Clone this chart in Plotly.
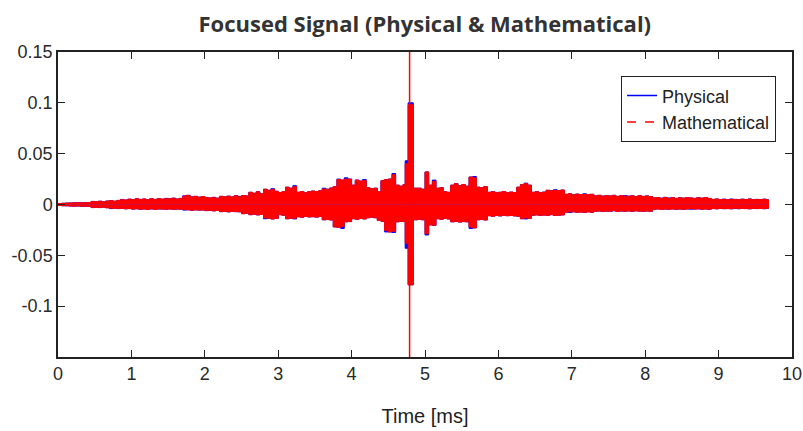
import plotly.graph_objects as go

# Time grid (ms) of the envelope samples
time_ms = [0.00, 0.05, 0.10, 0.15, 0.20, 0.25, 0.30, 0.35, 0.40, 0.45,
           0.50, 0.55, 0.60, 0.65, 0.70, 0.75, 0.80, 0.85, 0.90, 0.95,
           1.00, 1.05, 1.10, 1.15, 1.20, 1.25, 1.30, 1.35, 1.40, 1.45,
           1.50, 1.55, 1.60, 1.65, 1.70, 1.75, 1.80, 1.85, 1.90, 1.95,
           2.00, 2.05, 2.10, 2.15, 2.20, 2.25, 2.30, 2.35, 2.40, 2.45,
           2.50, 2.55, 2.60, 2.65, 2.70, 2.75, 2.80, 2.85, 2.90, 2.95,
           3.00, 3.05, 3.10, 3.15, 3.20, 3.25, 3.30, 3.35, 3.40, 3.45,
           3.50, 3.55, 3.60, 3.65, 3.70, 3.75, 3.80, 3.85, 3.90, 3.95,
           4.00, 4.05, 4.10, 4.15, 4.20, 4.25, 4.30, 4.35, 4.40, 4.45,
           4.50, 4.55, 4.60, 4.65, 4.70, 4.73, 4.77, 4.84, 4.90, 4.95,
           5.00, 5.05, 5.10, 5.15, 5.20, 5.25, 5.30, 5.35, 5.40, 5.45,
           5.50, 5.55, 5.60, 5.65, 5.70, 5.75, 5.80, 5.85, 5.90, 5.95,
           6.00, 6.05, 6.10, 6.15, 6.20, 6.25, 6.30, 6.35, 6.40, 6.45,
           6.50, 6.55, 6.60, 6.65, 6.70, 6.75, 6.80, 6.85, 6.90, 6.95,
           7.00, 7.05, 7.10, 7.15, 7.20, 7.25, 7.30, 7.35, 7.40, 7.45,
           7.50, 7.55, 7.60, 7.65, 7.70, 7.75, 7.80, 7.85, 7.90, 7.95,
           8.00, 8.05, 8.10, 8.15, 8.20, 8.25, 8.30, 8.35, 8.40, 8.45,
           8.50, 8.55, 8.60, 8.65, 8.70, 8.75, 8.80, 8.85, 8.90, 8.95,
           9.00, 9.05, 9.10, 9.15, 9.20, 9.25, 9.30, 9.35, 9.40, 9.45,
           9.50, 9.55, 9.60, 9.65, 9.68]

# Physical signal: positive / negative peak envelope
phys_upper = [.0010, .0012, .0014, .0015, .0016, .0018, .0016, .0020, .0018, .0030,
              .0028, .0032, .0026, .0034, .0038, .0032, .0040, .0050, .0044, .0052,
              .0048, .0056, .0050, .0054, .0046, .0056, .0050, .0058, .0052, .0060,
              .0056, .0062, .0054, .0060, .0085, .0090, .0075, .0080, .0072, .0078,
              .0068, .0064, .0070, .0062, .0080, .0076, .0082, .0074, .0086, .0080,
              .0088, .0084, .0120, .0110, .0125, .0105, .0150, .0140, .0155, .0130,
              .0118, .0125, .0170, .0160, .0185, .0120, .0128, .0115, .0125, .0132,
              .0128, .0135, .0160, .0150, .0162, .0175, .0250, .0240, .0262, .0250,
              .0190, .0240, .0230, .0245, .0165, .0155, .0160, .0125, .0235, .0245,
              .0250, .0305, .0190, .0180, .0195, .0430, .1000, .0160, .0160, .0150,
              .0320, .0190, .0240, .0160, .0165, .0125, .0120, .0190, .0205, .0185,
              .0195, .0180, .0270, .0275, .0170, .0165, .0175, .0120, .0125, .0115,
              .0120, .0128, .0115, .0122, .0118, .0170, .0195, .0210, .0190, .0120,
              .0125, .0115, .0122, .0140, .0135, .0145, .0138, .0142, .0100, .0105,
              .0095, .0102, .0098, .0105, .0095, .0100, .0085, .0090, .0082, .0088,
              .0084, .0090, .0080, .0086, .0088, .0082, .0085, .0078, .0086, .0080,
              .0084, .0078, .0065, .0068, .0062, .0070, .0064, .0068, .0060, .0066,
              .0062, .0068, .0064, .0060, .0066, .0062, .0068, .0060, .0050, .0054,
              .0048, .0052, .0046, .0054, .0050, .0046, .0052, .0048, .0054, .0046,
              .0050, .0048, .0052, .0046, 0.0]
phys_lower = [-.0010, -.0012, -.0013, -.0015, -.0016, -.0015, -.0017, -.0016, -.0018, -.0030,
              -.0028, -.0030, -.0026, -.0032, -.0040, -.0036, -.0040, -.0038, -.0042, -.0040,
              -.0045, -.0042, -.0046, -.0044, -.0048, -.0043, -.0046, -.0044, -.0045, -.0046,
              -.0044, -.0047, -.0045, -.0046, -.0055, -.0052, -.0056, -.0053, -.0055, -.0054,
              -.0060, -.0058, -.0062, -.0059, -.0070, -.0066, -.0072, -.0068, -.0070, -.0072,
              -.0090, -.0085, -.0100, -.0095, -.0102, -.0098, -.0140, -.0135, -.0142, -.0138,
              -.0100, -.0105, -.0140, -.0135, -.0142, -.0120, -.0125, -.0118, -.0122, -.0120,
              -.0124, -.0118, -.0150, -.0148, -.0152, -.0220, -.0225, -.0235, -.0170, -.0168,
              -.0140, -.0145, -.0138, -.0142, -.0130, -.0125, -.0130, -.0155, -.0165, -.0270,
              -.0270, -.0275, -.0170, -.0165, -.0168, -.0430, -.0790, -.0150, -.0145, -.0150,
              -.0300, -.0200, -.0205, -.0140, -.0145, -.0138, -.0142, -.0170, -.0165, -.0172,
              -.0168, -.0170, -.0235, -.0230, -.0150, -.0148, -.0152, -.0110, -.0115, -.0108,
              -.0112, -.0105, -.0110, -.0108, -.0112, -.0115, -.0140, -.0142, -.0135, -.0105,
              -.0102, -.0108, -.0104, -.0106, -.0100, -.0108, -.0105, -.0102, -.0075, -.0078,
              -.0072, -.0076, -.0074, -.0078, -.0072, -.0076, -.0066, -.0064, -.0068, -.0065,
              -.0066, -.0062, -.0068, -.0064, -.0066, -.0063, -.0067, -.0062, -.0065, -.0066,
              -.0064, -.0066, -.0046, -.0044, -.0048, -.0045, -.0047, -.0044, -.0046, -.0045,
              -.0047, -.0044, -.0046, -.0045, -.0043, -.0046, -.0044, -.0047, -.0040, -.0042,
              -.0039, -.0041, -.0040, -.0042, -.0038, -.0041, -.0039, -.0040, -.0042, -.0038,
              -.0040, -.0039, -.0041, -.0038, 0.0]

# Mathematical signal: positive / negative peak envelope
math_upper = [.0010, .0012, .0014, .0015, .0016, .0018, .0016, .0018, .0018, .0030,
              .0028, .0032, .0026, .0034, .0038, .0032, .0040, .0048, .0044, .0052,
              .0048, .0056, .0050, .0054, .0046, .0056, .0050, .0058, .0052, .0056,
              .0056, .0062, .0054, .0060, .0082, .0090, .0075, .0080, .0072, .0078,
              .0068, .0064, .0070, .0062, .0080, .0076, .0082, .0074, .0086, .0076,
              .0088, .0084, .0120, .0110, .0125, .0105, .0150, .0140, .0148, .0130,
              .0118, .0125, .0170, .0160, .0175, .0120, .0128, .0115, .0125, .0132,
              .0128, .0135, .0152, .0150, .0162, .0175, .0245, .0240, .0250, .0250,
              .0190, .0240, .0230, .0235, .0165, .0155, .0160, .0125, .0235, .0245,
              .0250, .0292, .0190, .0180, .0195, .0400, .0980, .0160, .0160, .0150,
              .0320, .0190, .0228, .0160, .0165, .0125, .0120, .0190, .0205, .0185,
              .0195, .0180, .0270, .0262, .0170, .0165, .0175, .0120, .0125, .0115,
              .0120, .0128, .0115, .0122, .0118, .0170, .0195, .0205, .0190, .0120,
              .0125, .0115, .0122, .0140, .0135, .0138, .0138, .0142, .0100, .0105,
              .0095, .0102, .0098, .0098, .0095, .0100, .0085, .0090, .0082, .0088,
              .0084, .0090, .0080, .0086, .0082, .0082, .0085, .0078, .0086, .0080,
              .0084, .0078, .0065, .0068, .0062, .0070, .0060, .0068, .0060, .0066,
              .0062, .0068, .0064, .0060, .0066, .0062, .0068, .0060, .0050, .0054,
              .0048, .0052, .0046, .0050, .0050, .0046, .0052, .0048, .0054, .0046,
              .0050, .0048, .0052, .0046, 0.0]
math_lower = [-.0010, -.0012, -.0013, -.0015, -.0016, -.0015, -.0017, -.0016, -.0018, -.0030,
              -.0028, -.0030, -.0026, -.0032, -.0036, -.0036, -.0040, -.0038, -.0042, -.0040,
              -.0045, -.0042, -.0046, -.0044, -.0048, -.0043, -.0046, -.0044, -.0045, -.0046,
              -.0044, -.0047, -.0045, -.0046, -.0050, -.0052, -.0056, -.0053, -.0055, -.0054,
              -.0060, -.0058, -.0062, -.0059, -.0070, -.0066, -.0072, -.0068, -.0070, -.0072,
              -.0090, -.0085, -.0100, -.0095, -.0102, -.0098, -.0132, -.0135, -.0142, -.0138,
              -.0100, -.0105, -.0140, -.0135, -.0135, -.0120, -.0125, -.0118, -.0122, -.0120,
              -.0124, -.0118, -.0150, -.0148, -.0152, -.0220, -.0225, -.0215, -.0170, -.0168,
              -.0140, -.0145, -.0138, -.0142, -.0130, -.0125, -.0130, -.0155, -.0165, -.0255,
              -.0270, -.0262, -.0170, -.0165, -.0168, -.0380, -.0790, -.0150, -.0145, -.0150,
              -.0288, -.0200, -.0205, -.0140, -.0145, -.0138, -.0142, -.0170, -.0165, -.0172,
              -.0168, -.0170, -.0222, -.0230, -.0150, -.0148, -.0152, -.0110, -.0115, -.0108,
              -.0112, -.0105, -.0110, -.0108, -.0112, -.0115, -.0140, -.0132, -.0135, -.0105,
              -.0102, -.0108, -.0104, -.0106, -.0100, -.0108, -.0105, -.0102, -.0075, -.0072,
              -.0072, -.0076, -.0074, -.0078, -.0072, -.0076, -.0066, -.0064, -.0068, -.0065,
              -.0066, -.0058, -.0068, -.0064, -.0066, -.0063, -.0067, -.0062, -.0065, -.0066,
              -.0064, -.0066, -.0046, -.0044, -.0048, -.0045, -.0047, -.0044, -.0046, -.0045,
              -.0047, -.0044, -.0041, -.0045, -.0043, -.0046, -.0044, -.0047, -.0040, -.0042,
              -.0039, -.0041, -.0040, -.0042, -.0035, -.0041, -.0039, -.0040, -.0042, -.0038,
              -.0040, -.0039, -.0041, -.0038, 0.0]

# Mathematical focus peak (exceeds the plotted range)
math_peak_time = [4.79, 4.79]
math_peak_value = [-0.2, 0.2]

x_ticks = [0, 1, 2, 3, 4, 5, 6, 7, 8, 9, 10]
y_ticks = [-0.1, -0.05, 0, 0.05, 0.1, 0.15]
y_tick_text = ["-0.1", "-0.05", "0", "0.05", "0.1", "0.15"]

BLUE = "#0000ff"
RED = "#ff0000"

fig = go.Figure()

for ys in (phys_upper, phys_lower):
    fig.add_trace(go.Scatter(x=time_ms, y=ys, mode="lines", line=dict(color=BLUE, width=1, shape="hv"),
                             fill="tozeroy", fillcolor=BLUE, showlegend=False, hoverinfo="skip"))
for ys in (math_upper, math_lower):
    fig.add_trace(go.Scatter(x=time_ms, y=ys, mode="lines", line=dict(color=RED, width=1, shape="hv"),
                             fill="tozeroy", fillcolor=RED, showlegend=False, hoverinfo="skip"))
fig.add_trace(go.Scatter(x=math_peak_time, y=math_peak_value, mode="lines",
                         line=dict(color=RED, width=1.5), showlegend=False, hoverinfo="skip"))

# legend entries
fig.add_trace(go.Scatter(x=[None], y=[None], mode="lines", name="Physical",
                         line=dict(color=BLUE, width=1.5)))
fig.add_trace(go.Scatter(x=[None], y=[None], mode="lines", name="Mathematical",
                         line=dict(color=RED, width=1.5, dash="dash")))

TICK_FONT = dict(family="Liberation Sans, Arial, sans-serif", size=18, color="#2a2a2a")
axis_common = dict(showgrid=False, zeroline=False, showline=True, linecolor="#222222", linewidth=1.5,
                   mirror="ticks", ticks="inside", ticklen=7, tickcolor="#222222", tickwidth=1.2,
                   tickfont=TICK_FONT, automargin=False)

fig.update_layout(
    width=803, height=431,
    margin=dict(l=58, r=11, t=52, b=74),
    paper_bgcolor="white", plot_bgcolor="white",
    title=dict(text="<b>Focused Signal (Physical &amp; Mathematical)</b>",
               font=dict(family="Open Sans, sans-serif", size=22, color="#333333"),
               x=0.529, xanchor="center", y=0.943, yanchor="middle"),
    xaxis=dict(range=[0, 10], tickvals=x_ticks, title=dict(text="Time [ms]", standoff=26,
               font=dict(family="Liberation Sans, Arial, sans-serif", size=20, color="#222222")),
               **axis_common),
    yaxis=dict(range=[-0.15, 0.15], tickvals=y_ticks, ticktext=y_tick_text, **axis_common),
    legend=dict(x=0.978, y=0.921, xanchor="right", yanchor="top", bgcolor="white",
                bordercolor="#222222", borderwidth=1.2, tracegroupgap=0,
                font=dict(family="Liberation Sans, Arial, sans-serif", size=18, color="#222222")),
    showlegend=True,
)

fig.write_html("out.html", config={"displayModeBar": False},
               post_script="document.body.style.margin='0';document.body.style.overflow='hidden';")
